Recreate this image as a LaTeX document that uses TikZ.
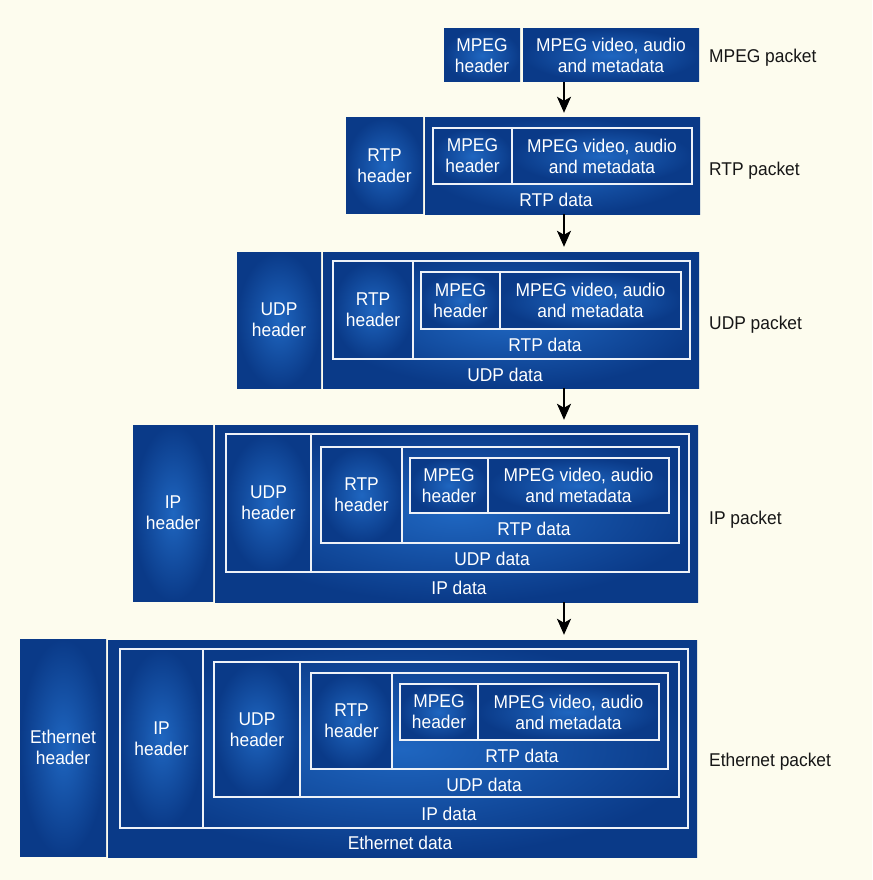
\documentclass[tikz,border=0pt]{standalone}
\usepackage{fontspec}
\setmainfont{Liberation Sans}[FakeStretch=0.94]
\usetikzlibrary{arrows.meta}
\definecolor{bgc}{HTML}{FDFCEE}
\definecolor{bD}{HTML}{0A3A88}
\definecolor{bL}{HTML}{1F66C0}
\definecolor{wl}{HTML}{EEF2F8}
\definecolor{ink}{HTML}{161616}
\newcommand\lblfont{\fontsize{18.5}{21}\selectfont}
% \rb{name}{style}{x1}{y1}{x2}{y2}{text}
\newcommand\rb[7]{\node[#2, minimum width={(#5-#3)*1pt}, minimum height={(#6-#4)*1pt}] (#1) at ({(#3+#5)/2},{(#4+#6)/2}) {#7};}
\tikzset{
  pkt/.style={rectangle, inner sep=0pt, shade, inner color=bL, outer color=bD, text=white, align=center, font=\lblfont},
  hdr/.style={pkt, draw=wl, line width=1.4pt},
  cell/.style={rectangle, inner sep=0pt, draw=wl, line width=1.4pt},
  dlab/.style={text=white, font=\lblfont, inner sep=0pt},
  plab/.style={text=ink, font=\lblfont, anchor=west, inner sep=0pt},
  arr/.style={-{Stealth[length=16pt,width=14pt,inset=4pt]}, line width=2pt, draw=black, shorten >=5pt}
}
\begin{document}
\begin{tikzpicture}[x=1pt,y=-1pt]
\fill[bgc] (0,0) rectangle (872,880);
\useasboundingbox (0,0) rectangle (872,880);
\coordinate (ax) at (564,0);

% Row 1: MPEG packet
\rb{m1h}{pkt}{444}{29}{520}{82}{MPEG\\header}
\rb{m1d}{pkt}{523}{29}{699}{82}{MPEG video, audio\\and metadata}
\node[plab] (l1) at (709,58) {MPEG packet};

% Row 2: RTP packet
\rb{r2h}{pkt}{346}{118}{423}{213}{RTP\\header}
\rb{r2d}{pkt}{425}{118}{700}{214}{}
\rb{m2h}{hdr}{433}{128}{512}{184}{MPEG\\header}
\rb{m2d}{hdr}{512}{128}{692}{184}{MPEG video, audio\\and metadata}
\node[dlab] (t2a) at (556,200) {RTP data};
\node[plab] (l2) at (709,171) {RTP packet};

% Row 3: UDP packet
\rb{u3h}{pkt}{237}{252}{321}{388}{UDP\\header}
\rb{u3d}{pkt}{323}{252}{699}{388}{}
\rb{r3h}{hdr}{333}{261}{413}{359}{RTP\\header}
\rb{r3d}{cell}{413}{261}{690}{359}{}
\rb{m3h}{hdr}{421}{272}{500}{329}{MPEG\\header}
\rb{m3d}{hdr}{500}{272}{681}{329}{MPEG video, audio\\and metadata}
\node[dlab] (t3a) at (545,345) {RTP data};
\node[dlab] (t3b) at (505,375) {UDP data};
\node[plab] (l3) at (709,325) {UDP packet};

% Row 4: IP packet
\rb{i4h}{pkt}{133}{425}{213}{601}{IP\\header}
\rb{i4d}{pkt}{215}{425}{698}{602}{}
\rb{u4h}{hdr}{226}{434}{311}{572}{UDP\\header}
\rb{u4d}{cell}{311}{434}{689}{572}{}
\rb{r4h}{hdr}{321}{447}{402}{543}{RTP\\header}
\rb{r4d}{cell}{402}{447}{679}{543}{}
\rb{m4h}{hdr}{410}{458}{488}{513}{MPEG\\header}
\rb{m4d}{hdr}{488}{458}{669}{513}{MPEG video, audio\\and metadata}
\node[dlab] (t4a) at (534,529) {RTP data};
\node[dlab] (t4b) at (492,559) {UDP data};
\node[dlab] (t4c) at (459,588) {IP data};
\node[plab] (l4) at (709,520) {IP packet};

% Row 5: Ethernet packet
\rb{e5h}{pkt}{20}{639}{106}{856}{Ethernet\\header}
\rb{e5d}{pkt}{108}{640}{697}{857}{}
\rb{i5h}{hdr}{120}{649}{203}{828}{IP\\header}
\rb{i5d}{cell}{203}{649}{688}{828}{}
\rb{u5h}{hdr}{214}{662}{300}{797}{UDP\\header}
\rb{u5d}{cell}{300}{662}{679}{797}{}
\rb{r5h}{hdr}{311}{673}{392}{769}{RTP\\header}
\rb{r5d}{cell}{392}{673}{668}{769}{}
\rb{m5h}{hdr}{400}{684}{478}{740}{MPEG\\header}
\rb{m5d}{hdr}{478}{684}{659}{740}{MPEG video, audio\\and metadata}
\node[dlab] (t5a) at (522,756) {RTP data};
\node[dlab] (t5b) at (484,785) {UDP data};
\node[dlab] (t5c) at (449,814) {IP data};
\node[dlab] (t5d) at (400,843) {Ethernet data};
\node[plab] (l5) at (709,762) {Ethernet packet};

% Arrows
\draw[arr] (m1d.south -| ax) -- (r2d.north -| ax);
\draw[arr] (r2d.south -| ax) -- (u3d.north -| ax);
\draw[arr] (u3d.south -| ax) -- (i4d.north -| ax);
\draw[arr] (i4d.south -| ax) -- (e5d.north -| ax);
\end{tikzpicture}
\end{document}
